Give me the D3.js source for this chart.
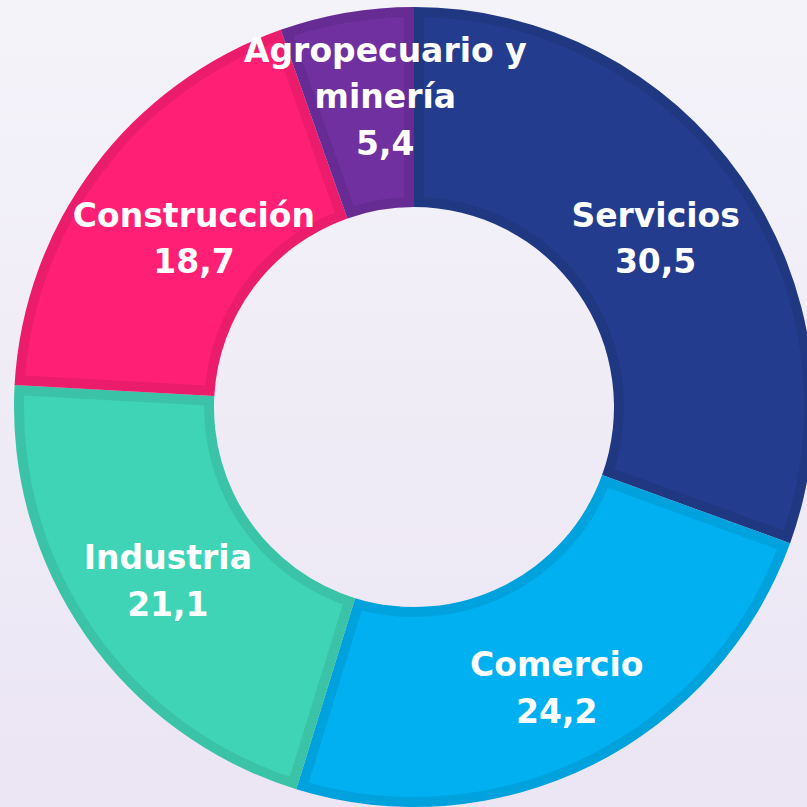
<!DOCTYPE html>
<html>
<head>
<meta charset="utf-8">
<script src="https://cdn.jsdelivr.net/npm/d3@7"></script>
<style>
html,body{margin:0;padding:0;overflow:hidden;}
svg{display:block;}
</style>
</head>
<body>
<script>
const categories = ["Servicios", "Comercio", "Industria", "Construcción", "Agropecuario y minería"];
const labelLines = [["Servicios"], ["Comercio"], ["Industria"], ["Construcción"], ["Agropecuario y", "minería"]];
const values = [30.5, 24.2, 21.1, 18.7, 5.4];
const valueLabels = ["30,5", "24,2", "21,1", "18,7", "5,4"];
const colors = ["#233c8e", "#00b0f0", "#40d4b6", "#ff1f75", "#7030a0"];
const labelOffsets = [[-4, 3], [9, 12], [0, 2], [20, 11], [22, -15]];

const W = 807, H = 807;
const cx = 414, cy = 407, R = 400, r = 200;

const svg = d3.select("body").append("svg").attr("width", W).attr("height", H);
const defs = svg.append("defs");
const grad = defs.append("linearGradient").attr("id", "bg").attr("x1", 0).attr("y1", 0).attr("x2", 0).attr("y2", 1);
grad.append("stop").attr("offset", "0%").attr("stop-color", "#f4f3f9");
grad.append("stop").attr("offset", "100%").attr("stop-color", "#ebe5f4");
svg.append("rect").attr("width", W).attr("height", H).attr("fill", "url(#bg)");

const data = categories.map((c, i) => ({cat: c, value: values[i], i}));
const pie = d3.pie().value(d => d.value).sort(null);
const arcs = pie(data);
const arc = d3.arc().innerRadius(r).outerRadius(R);
const labelArc = d3.arc().innerRadius(300).outerRadius(300);

const g = svg.append("g").attr("transform", `translate(${cx},${cy})`);

arcs.forEach((a, i) => {
  defs.append("clipPath").attr("id", "clip" + i)
    .append("path").attr("d", arc(a));
});

g.selectAll("path.fill").data(arcs).join("path")
  .attr("class", "fill")
  .attr("d", arc)
  .attr("fill", d => colors[d.index]);
g.selectAll("path.edge").data(arcs).join("path")
  .attr("class", "edge")
  .attr("d", arc)
  .attr("fill", "none")
  .attr("stroke", "#000")
  .attr("stroke-opacity", 0.08)
  .attr("stroke-width", 20)
  .attr("stroke-linejoin", "miter")
  .attr("clip-path", (d, i) => `url(#clip${i})`);

const fontSize = 33, lineH = 46.5;
const lg = svg.append("g").attr("transform", `translate(${cx},${cy})`);
arcs.forEach((a, i) => {
  const [x, y] = labelArc.centroid(a);
  const lines = labelLines[i].concat([valueLabels[i]]);
  const n = lines.length;
  const px = x + labelOffsets[i][0];
  const py = y + labelOffsets[i][1];
  const capH = fontSize * 0.729;
  const totalH = (n - 1) * lineH + capH;
  const firstBase = py - totalH / 2 + capH;
  const t = lg.append("text")
    .attr("text-anchor", "middle")
    .attr("font-family", "'DejaVu Sans', sans-serif")
    .attr("font-weight", "bold")
    .attr("font-size", fontSize)
    .attr("fill", "#ffffff");
  lines.forEach((ln, k) => {
    t.append("tspan").attr("x", px).attr("y", firstBase + k * lineH).text(ln);
  });
});
</script>
</body>
</html>
